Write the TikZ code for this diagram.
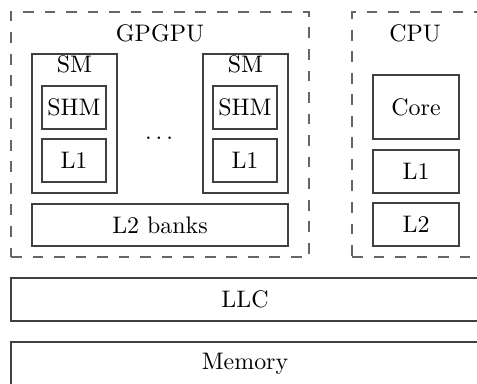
\documentclass[tikz,border=0pt]{standalone}
\usetikzlibrary{fit}
\begin{document}
\begin{tikzpicture}[x=0.418pt, y=-0.418pt,
  box/.style={draw=black!75, line width=0.45pt, inner sep=0pt, fit={#1}},
  group/.style={draw=black!60, line width=0.45pt, dash pattern=on 4.5pt off 4.5pt,
                inner sep=0pt, fit={#1}},
  txt/.style={inner sep=0pt},
  lbl/.style={anchor=base, inner sep=0pt}]
\useasboundingbox (0,0) rectangle (477,384);
\clip (0,0) rectangle (477,384);

% GPGPU cluster
\node[group={(11,12) (309,257)}] (gpgpu) {};
\node[lbl] (gpgpulbl) at (160,41.5) {GPGPU};

\node[box={(32,54) (117,193)}] (sm1) {};
\node[lbl] (sm1lbl) at (74.5,73) {SM};
\node[box={(42,86) (106,129)}] (shm1) {};
\node[txt] at (shm1.center) {SHM};
\node[box={(42,139) (106,182)}] (l1a) {};
\node[txt] at (l1a.center) {L1};

\node[lbl] (dots) at (159,140) {$\ldots$};

\node[box={(203,54) (288,193)}] (sm2) {};
\node[lbl] (sm2lbl) at (245.5,73) {SM};
\node[box={(213,86) (277,129)}] (shm2) {};
\node[txt] at (shm2.center) {SHM};
\node[box={(213,139) (277,182)}] (l1b) {};
\node[txt] at (l1b.center) {L1};

\node[box={(32,204) (288,246)}] (l2banks) {};
\node[txt] at (l2banks.center) {L2 banks};

% CPU cluster
\node[group={(352,12) (479,257)}] (cpu) {};
\node[lbl] (cpulbl) at (415,41.5) {CPU};
\node[box={(373,75) (459,139)}] (core) {};
\node[txt] at (core.center) {Core};
\node[box={(373,150) (459,193)}] (l1c) {};
\node[txt] at (l1c.center) {L1};
\node[box={(373,203) (459,246)}] (l2c) {};
\node[txt] at (l2c.center) {L2};

% shared levels
\node[box={(11,278) (479,321)}] (llc) {};
\node[txt] at (llc.center) {LLC};
\node[box={(11,342) (479,386)}] (mem) {};
\node[txt] at (mem.center) {Memory};
\end{tikzpicture}
\end{document}
